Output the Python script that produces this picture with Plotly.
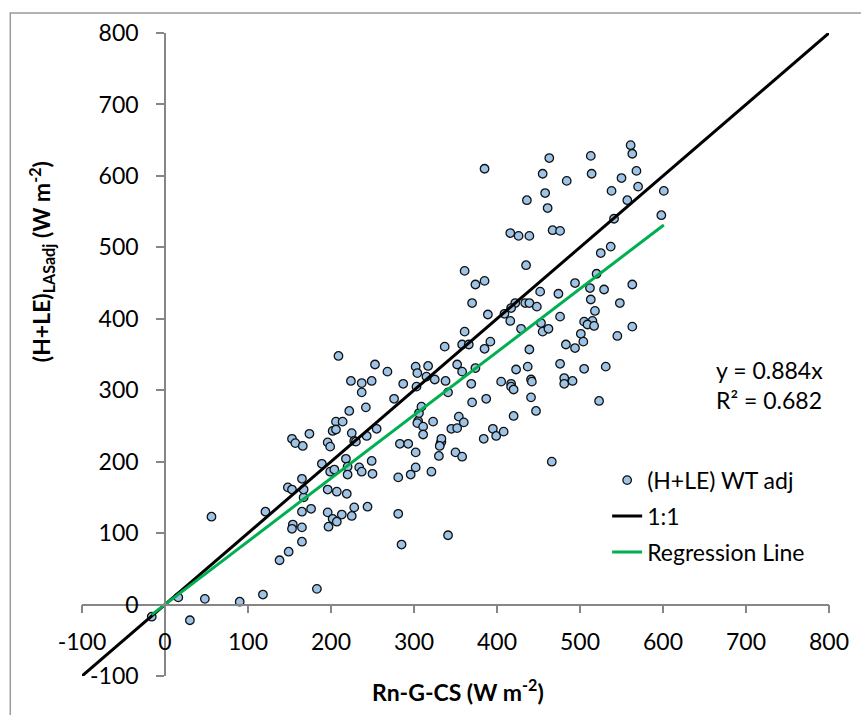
import plotly.graph_objects as go

# Measured energy balance closure: available energy vs adjusted turbulent fluxes (W m-2)
rn_g_cs = [
    -16, 16, 30, 48, 90, 118, 183, 56, 121, 138, 149, 165, 154, 153, 165, 176, 165, 167, 167, 148,
    153, 165, 153, 157, 166, 174,
    209, 253, 268, 224, 237, 249, 237, 287, 302, 304, 317, 315, 325, 303, 337, 361, 358, 366, 385, 392,
    352, 358, 374, 338, 341, 369, 405, 276, 222, 242, 206, 214, 202, 206, 225, 255, 243, 228, 230, 196,
    199, 189, 199, 204, 218, 220, 220, 234, 237, 249, 250, 196, 207, 219, 196, 202, 207, 197, 213, 225,
    228, 244, 281, 285, 341, 281, 296, 302, 321, 283, 293, 302, 330, 332, 333, 333, 331, 350, 358, 305,
    304, 306, 309, 311, 311, 323, 345, 352, 354, 360, 370, 387, 384, 395, 399, 408,
    385, 361, 374, 385, 370, 389,
    561, 563, 463, 513, 514, 455, 484, 550, 568, 570, 538, 458, 436, 461, 557, 601, 598, 541, 416, 426,
    439, 467, 476, 537, 525, 435, 520, 494, 512, 563, 452, 474, 529, 513, 548, 422, 434, 439, 448, 417,
    409, 518, 416, 476, 453, 505, 515, 509, 517, 429, 455, 462, 501, 545, 563,
    483, 494, 504, 439, 476, 437, 505, 531, 423, 417, 417, 420, 441, 442, 481, 481, 491, 441, 447, 420,
    523, 466,
]
h_le_adj = [
    -17, 10, -22, 8, 4, 14, 22, 123, 130, 62, 74, 88, 112, 106, 108, 134, 130, 150, 161, 164,
    161, 176, 232, 226, 222, 239,
    348, 336, 326, 313, 310, 313, 297, 309, 333, 324, 334, 319, 315, 305, 361, 382, 364, 364, 358, 368,
    336, 326, 331, 313, 297, 309, 312, 288, 271, 276, 256, 256, 243, 245, 240, 246, 236, 229, 228, 227,
    221, 197, 186, 189, 204, 193, 182, 192, 186, 201, 183, 161, 158, 155, 129, 120, 116, 109, 126, 124,
    136, 137, 127, 84, 97, 178, 182, 192, 186, 225, 225, 213, 208, 226, 228, 232, 222, 213, 207, 257,
    254, 268, 277, 249, 238, 256, 246, 247, 263, 255, 283, 288, 232, 246, 236, 242,
    610, 467, 448, 453, 422, 406,
    643, 631, 625, 628, 603, 603, 593, 597, 607, 585, 579, 576, 566, 555, 566, 579, 545, 540, 520, 516,
    516, 524, 523, 501, 492, 475, 463, 450, 443, 448, 438, 435, 441, 427, 422, 422, 422, 422, 417, 415,
    407, 411, 397, 403, 394, 396, 397, 392, 390, 386, 382, 386, 379, 376, 389,
    364, 359, 368, 357, 337, 333, 330, 333, 329, 309, 305, 301, 315, 312, 317, 309, 313, 290, 271, 264,
    285, 200,
]

# Reference 1:1 line and fitted regression through the origin
one_to_one = [-100, 800]
slope = 0.884
r_squared = 0.682
reg_x = [min(rn_g_cs), max(rn_g_cs)]
reg_y = [slope * v for v in reg_x]

axis_ticks = list(range(-100, 801, 100))
axis_tick_text = [str(v) for v in axis_ticks]  # plain hyphen for negatives

FONT = "Lato"
FS = 23
AXIS_GREY = "#868686"

fig = go.Figure()

fig.add_trace(go.Scatter(
    x=rn_g_cs, y=h_le_adj, mode="markers", name="(H+LE) WT adj",
    marker=dict(size=8.5, color="#9DC3E6", line=dict(color="#111111", width=1.3)),
    legendgroup="a",
))
fig.add_trace(go.Scatter(
    x=one_to_one, y=one_to_one, mode="lines", name="1:1",
    line=dict(color="black", width=3), legendgroup="b",
))
fig.add_trace(go.Scatter(
    x=reg_x, y=reg_y, mode="lines", name="Regression Line",
    line=dict(color="#00B050", width=3), legendgroup="c",
))

axis_common = dict(
    range=[-100, 800], tickvals=axis_ticks, ticktext=axis_tick_text,
    showgrid=False, zeroline=False,
    showline=True, linecolor=AXIS_GREY, linewidth=1.5,
    ticks="outside", ticklen=8, tickwidth=1.5, tickcolor=AXIS_GREY,
    tickfont=dict(family=FONT, size=FS, color="black"),
    anchor="free", position=100 / 900,
)

fig.update_layout(
    width=861, height=715,
    margin=dict(l=82, r=29, t=33, b=39),
    paper_bgcolor="white", plot_bgcolor="white",
    xaxis=dict(**axis_common, ticklabelstandoff=9),
    yaxis=dict(**axis_common, ticklabelstandoff=13),
    showlegend=True,
    legend=dict(
        x=0.703, y=0.338, xanchor="left", yanchor="top",
        font=dict(family=FONT, size=FS, color="black"),
        bgcolor="rgba(0,0,0,0)", tracegroupgap=3,
    ),
    font=dict(family=FONT),
)

fig.add_annotation(
    text="<b>Rn-G-CS (W m<sup>-2</sup>)</b>", xref="paper", yref="paper",
    x=0.504, y=-0.022, xanchor="center", yanchor="middle", showarrow=False,
    font=dict(family=FONT, size=FS, color="black"),
)
fig.add_annotation(
    text="<b>(H+LE)<sub>LASadj</sub> (W m<sup>-2</sup>)</b>", xref="paper", yref="paper",
    x=-0.055, y=0.645, xanchor="center", yanchor="middle", textangle=-90, showarrow=False,
    font=dict(family=FONT, size=FS, color="black"),
)
fig.add_annotation(
    text=f"y = {slope:.3f}x", xref="paper", yref="paper",
    x=0.846, y=0.476, xanchor="left", yanchor="middle", showarrow=False,
    font=dict(family=FONT, size=FS, color="black"),
)
fig.add_annotation(
    text=f"R² = {r_squared:.3f}", xref="paper", yref="paper",
    x=0.846, y=0.429, xanchor="left", yanchor="middle", showarrow=False,
    font=dict(family=FONT, size=FS, color="black"),
)

# Chart frame
fig.add_shape(
    type="rect", xref="paper", yref="paper",
    x0=(10 - 82) / 750, x1=1.2, y0=-0.2, y1=1 + (33 - 13) / 643,
    line=dict(color="#9a9a9a", width=1.5), fillcolor="rgba(0,0,0,0)", layer="below",
)

fig.write_html("out.html")
